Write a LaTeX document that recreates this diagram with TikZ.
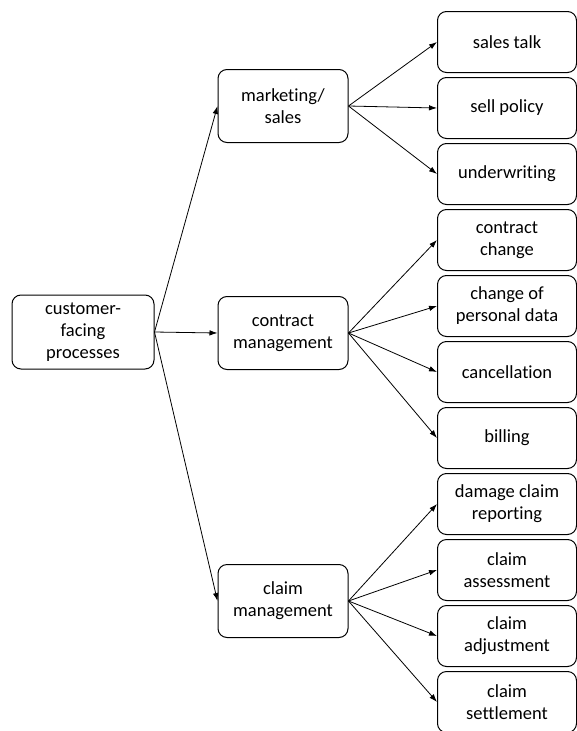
\documentclass[tikz,border=0pt]{standalone}
\usepackage{fontspec}
\setmainfont{Carlito}[Ligatures={NoCommon}]
\usetikzlibrary{arrows.meta}

\begin{document}
\begin{tikzpicture}[
        x=1pt,y=-1pt
        ,box/.style={draw=black,line width=1pt,rounded corners=9pt,align=center,inner sep=0pt,font=\fontsize{18.5}{22}\selectfont}
        ,mid/.style={box,minimum width=130,minimum height=73}
        ,leaf/.style={box,minimum width=139,minimum height=61}
        ,link/.style={-{Latex[length=8pt,width=5.5pt]},line width=0.8pt}
    ]
    \useasboundingbox (0,0) rectangle (577,731);
    % Корень
    \node[box,minimum width=142,minimum height=74] (root) at (83,332) {customer-\\facing\\processes};
    % Средний столбец
    \node[mid] (sales) at (283,106) {marketing/\\sales};
    \node[mid] (contract) at (283,333) {contract\\management};
    \node[mid] (claim) at (283,601) {claim\\management};
    % Правый столбец
    \node[leaf] (talk) at (507,42) {sales talk};
    \node[leaf] (sell) at (507,108) {sell policy};
    \node[leaf] (underwr) at (507,174) {underwriting};
    \node[leaf] (change) at (507,240) {contract\\change};
    \node[leaf] (persdata) at (507,306) {change of\\personal data};
    \node[leaf] (cancel) at (507,372) {cancellation};
    \node[leaf] (billing) at (507,438) {billing};
    \node[leaf] (report) at (507,504) {damage claim\\reporting};
    \node[leaf] (assess) at (507,570) {claim\\assessment};
    \node[leaf] (adjust) at (507,636) {claim\\adjustment};
    \node[leaf] (settle) at (507,702) {claim\\settlement};
    % Стрелки
    \draw[link] (root.east) -- (sales.west);
    \draw[link] (root.east) -- (contract.west);
    \draw[link] (root.east) -- (claim.west);
    \draw[link] (sales.east) -- (talk.west);
    \draw[link] (sales.east) -- (sell.west);
    \draw[link] (sales.east) -- (underwr.west);
    \draw[link] (contract.east) -- (change.west);
    \draw[link] (contract.east) -- (persdata.west);
    \draw[link] (contract.east) -- (cancel.west);
    \draw[link] (contract.east) -- (billing.west);
    \draw[link] (claim.east) -- (report.west);
    \draw[link] (claim.east) -- (assess.west);
    \draw[link] (claim.east) -- (adjust.west);
    \draw[link] (claim.east) -- (settle.west);
\end{tikzpicture}
\end{document}
